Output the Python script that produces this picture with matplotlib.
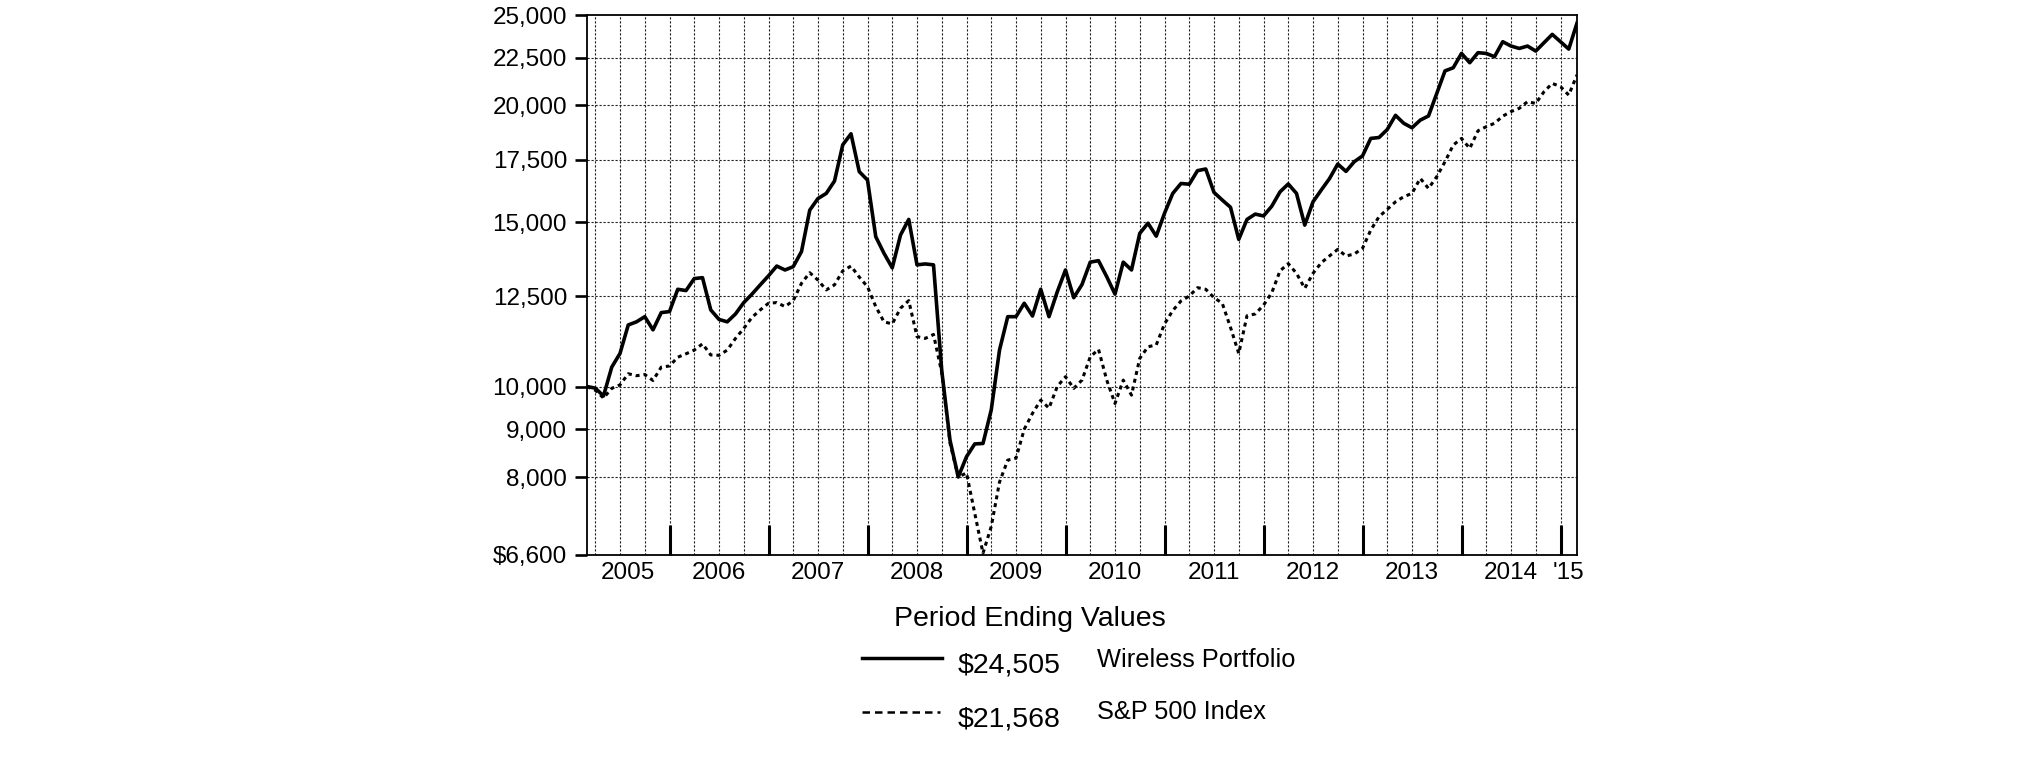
import numpy as np
import matplotlib
matplotlib.use("Agg")
import matplotlib.pyplot as plt
from matplotlib.ticker import FixedLocator, FixedFormatter, NullLocator
from matplotlib.lines import Line2D

plt.rcParams['font.family'] = ['Liberation Sans', 'DejaVu Sans']

# Monthly period-ending values, Feb 2005 .. Feb 2015 (index 0 = Feb 2005)
wireless = [
    10000, 9960, 9770, 10490, 10850, 11640, 11730, 11880, 11500, 12000,
    12030, 12710, 12670, 13050, 13080, 12080, 11800, 11730, 11960, 12300,
    12560, 12850, 13140, 13460, 13330, 13440, 13950, 15450, 15900, 16100,
    16600, 18150, 18650, 16990, 16640, 14470, 13890, 13400, 14530, 15100,
    13500, 13530, 13500, 10400, 8760, 8000, 8410, 8680, 8690, 9440,
    10940, 11880, 11880, 12280, 11900, 12710, 11880, 12630, 13330, 12450,
    12860, 13590, 13640, 13110, 12560, 13590, 13330, 14590, 14960, 14490,
    15330, 16100, 16500, 16470, 17030, 17100, 16140, 15840, 15560, 14375,
    15100, 15300, 15230, 15600, 16160, 16480, 16100, 14890, 15770, 16235,
    16700, 17310, 17000, 17410, 17660, 18440, 18480, 18850, 19520, 19140,
    18930, 19290, 19490, 20600, 21780, 21950, 22740, 22225, 22780, 22740,
    22556, 23406, 23157, 23021, 23157, 22872, 23348, 23833, 23406, 22985,
    24505,
]
sp500 = [
    10000, 9910, 9720, 9955, 10040, 10320, 10270, 10300, 10150, 10490,
    10520, 10750, 10840, 10940, 11110, 10810, 10800, 10940, 11260, 11540,
    11860, 12080, 12280, 12300, 12180, 12360, 12900, 13240, 13000, 12690,
    12850, 13300, 13460, 13100, 12790, 12180, 11730, 11670, 12130, 12360,
    11310, 11260, 11370, 10350, 8700, 8000, 8080, 7315, 6630, 7080,
    7900, 8340, 8380, 9000, 9360, 9670, 9480, 10000, 10245, 9955,
    10160, 10760, 10960, 10160, 9590, 10160, 9790, 10720, 11030, 11080,
    11670, 12060, 12350, 12500, 12760, 12710, 12450, 12280, 11570, 10850,
    11907, 11960, 12220, 12600, 13300, 13540, 13220, 12740, 13220, 13570,
    13800, 14025, 13797, 13865, 14060, 14710, 15200, 15480, 15770, 15970,
    16100, 16710, 16300, 16780, 17410, 18140, 18440, 17990, 18790, 18980,
    19140, 19480, 19700, 19860, 20190, 20100, 20690, 21120, 20950, 20520,
    21568,
]

ytick_vals = [6600, 8000, 9000, 10000, 12500, 15000, 17500, 20000, 22500, 25000]
ytick_labels = ["$6,600", "8,000", "9,000", "10,000", "12,500", "15,000",
                "17,500", "20,000", "22,500", "25,000"]
year_labels = ["2005", "2006", "2007", "2008", "2009", "2010", "2011",
               "2012", "2013", "2014", "'15"]
year_label_pos = [5, 16, 28, 40, 52, 64, 76, 88, 100, 112, 119]
year_end_ticks = [10, 22, 34, 46, 58, 70, 82, 94, 106, 118]
quarter_lines = list(range(1, 120, 3))

legend_title = "Period Ending Values"
series_names = ["Wireless Portfolio", "S&P 500 Index"]
end_values = ["$24,505", "$21,568"]

W, H = 2026, 763
fig = plt.figure(figsize=(W / 100, H / 100), dpi=100)
ax = fig.add_axes([587 / W, 1 - 555 / H, 990 / W, 540 / H])

months = np.arange(len(wireless))

ax.set_yscale('log')
ax.set_ylim(6600, 25000)
ax.set_xlim(0, 120)

# grid
grid_style = dict(color='#222222', lw=0.8, linestyle=(0, (2.0, 1.6)))
ax.vlines(quarter_lines, 0, 1, transform=ax.get_xaxis_transform(), zorder=1, **grid_style)
for v in ytick_vals[1:-1]:
    ax.axhline(v, zorder=1, **grid_style)

ax.plot(months, sp500, color='black', lw=2.2, linestyle=(0, (1.3, 1.3)), zorder=3)
ax.plot(months, wireless, color='black', lw=2.6, zorder=4)

ax.yaxis.set_major_locator(FixedLocator(ytick_vals))
ax.yaxis.set_major_formatter(FixedFormatter(ytick_labels))
ax.yaxis.set_minor_locator(NullLocator())
ax.tick_params(axis='y', which='major', direction='out', length=8.6, width=1.9,
               labelsize=17.5, pad=5.8, colors='black')

ax.xaxis.set_major_locator(FixedLocator(year_end_ticks))
ax.xaxis.set_minor_locator(FixedLocator(year_label_pos))
ax.xaxis.set_minor_formatter(FixedFormatter(year_labels))
ax.tick_params(axis='x', which='major', direction='in', length=21.6, width=2.2,
               labelbottom=False)
ax.tick_params(axis='x', which='minor', length=0, labelsize=17.5, pad=5)

for s in ax.spines.values():
    s.set_linewidth(1.3)
    s.set_color('black')

# legend block
fig.text(1030 / W, 1 - 625.7 / H, legend_title, ha='center', va='baseline', fontsize=20.5)
fig.add_artist(Line2D([862 / W, 942 / W], [1 - 658 / H] * 2, color='black', lw=2.5))
fig.add_artist(Line2D([862 / W, 940 / W], [1 - 712 / H] * 2, color='black', lw=1.8,
                      linestyle=(0, (3, 2))))
fig.text(958 / W, 1 - 673 / H, end_values[0], ha='left', va='baseline', fontsize=20.5)
fig.text(958 / W, 1 - 726.7 / H, end_values[1], ha='left', va='baseline', fontsize=20.5)
fig.text(1097 / W, 1 - 667 / H, series_names[0], ha='left', va='baseline', fontsize=18.3)
fig.text(1097 / W, 1 - 719 / H, series_names[1], ha='left', va='baseline', fontsize=18.3)

fig.savefig("out.png", dpi=100, facecolor='white')
